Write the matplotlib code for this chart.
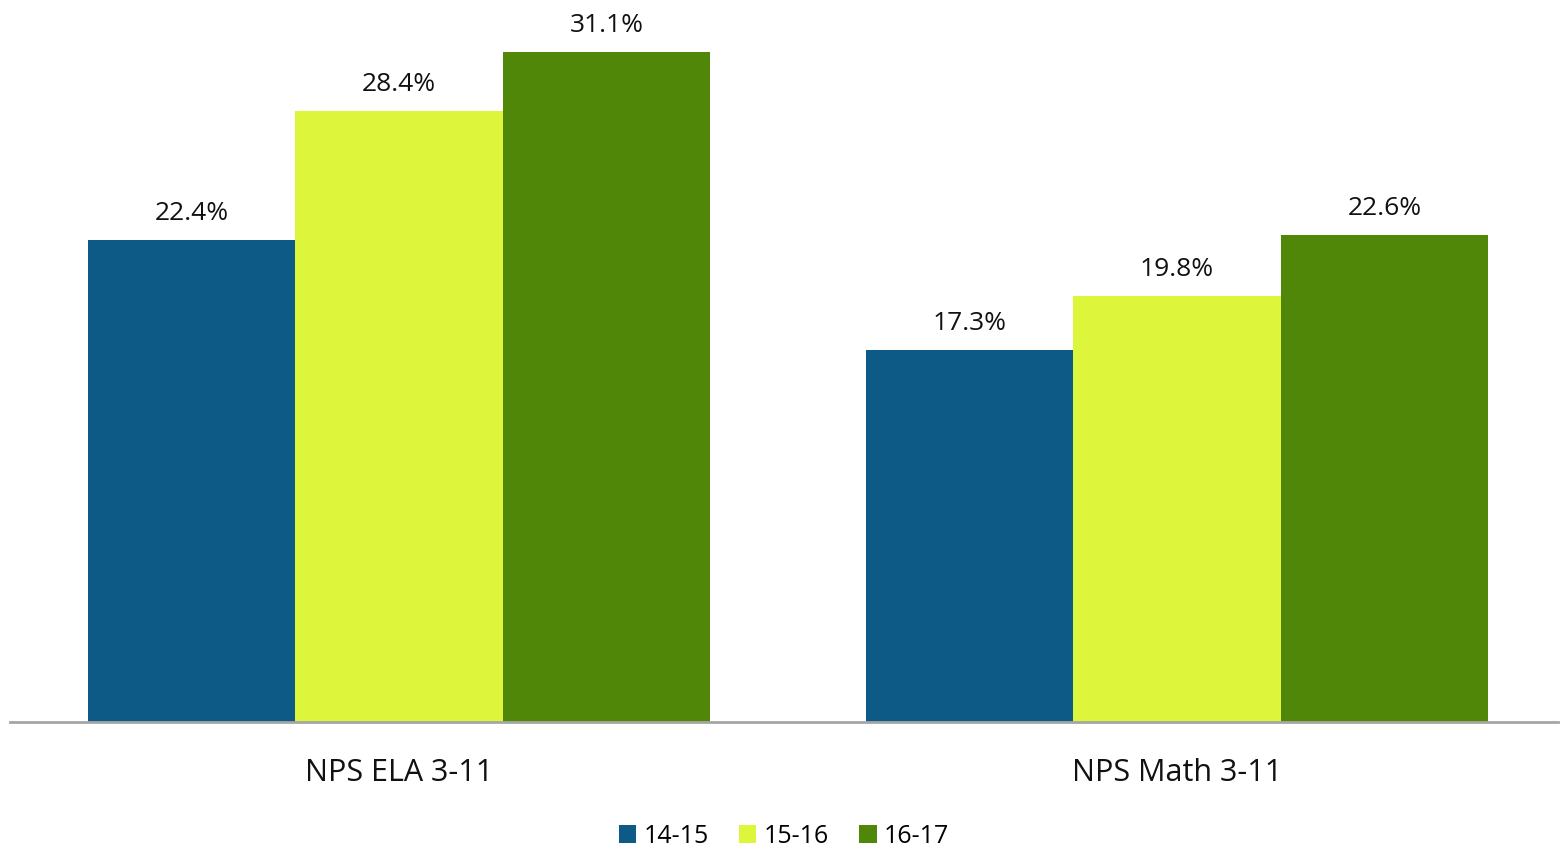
import numpy as np
import matplotlib.pyplot as plt

plt.rcParams['font.family'] = ['Open Sans', 'DejaVu Sans']

# Data
categories = ["NPS ELA 3-11", "NPS Math 3-11"]
series = ["14-15", "15-16", "16-17"]
values = {
    "14-15": [22.4, 17.3],
    "15-16": [28.4, 19.8],
    "16-17": [31.1, 22.6],
}
colors = ["#0E5A86", "#DDF53B", "#518708"]

W, H = 1560, 849
fig = plt.figure(figsize=(W / 100, H / 100), dpi=100)
ax = fig.add_axes([10 / W, 1 - 722 / H, 1548 / W, 722 / H])

x = np.arange(len(categories))
bw = 0.2667
for i, (s, c) in enumerate(zip(series, colors)):
    pos = x + (i - 1) * bw
    ax.bar(pos, values[s], width=bw, color=c, label=s)
    for px, v in zip(pos, values[s]):
        ax.text(px, v + 0.65, f"{v:.1f}%", ha="center", va="bottom",
                fontsize=19, color="#111111")

ax.set_xlim(-0.5, 1.4897)
ax.set_ylim(0, 722 / 21.53)
ax.set_yticks([])
ax.set_xticks(x)
ax.set_xticklabels(categories, fontsize=22, color="#111111")
ax.tick_params(axis="x", length=0, pad=26)
for side in ["top", "right", "left"]:
    ax.spines[side].set_visible(False)
ax.spines["bottom"].set_color("#A6A6A6")
ax.spines["bottom"].set_linewidth(2)

ax.legend(loc="center", bbox_to_anchor=(0.5, -0.158), ncol=3, frameon=False,
          fontsize=18, handlelength=0.7, handleheight=0.7, handletextpad=0.3,
          columnspacing=1.2, borderpad=0.2)

fig.savefig("out.png", dpi=100)
